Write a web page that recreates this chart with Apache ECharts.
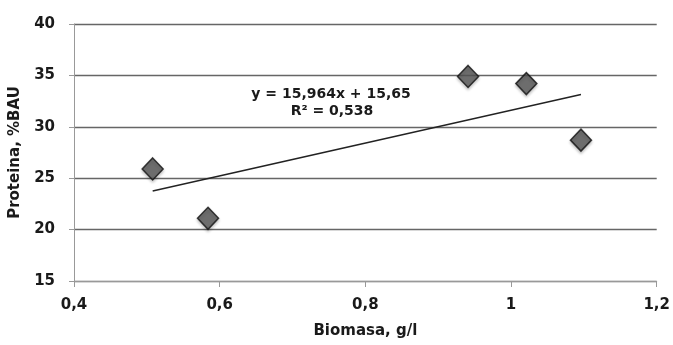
<!DOCTYPE html>
<html>
<head>
<meta charset="utf-8">
<script src="https://cdn.jsdelivr.net/npm/echarts@6/dist/echarts.min.js"></script>
<style>
  html, body { margin: 0; padding: 0; background: #fff; }
  #chart { width: 673px; height: 345px; }
</style>
</head>
<body>
<div id="chart"></div>
<script>
// data
const biomasa = [0.508, 0.584, 0.941, 1.021, 1.096];
const proteina = [25.9, 21.1, 34.9, 34.2, 28.7];
const slope = 15.964;
const intercept = 15.65;
const r2 = '0,538';

const fmt = v => String(v).replace('.', ',');

const points = biomasa.map((x, i) => [x, proteina[i]]);
const xMin = Math.min(...biomasa), xMax = Math.max(...biomasa);
const trend = [[xMin, slope * xMin + intercept], [xMax, slope * xMax + intercept]];

const font = '"DejaVu Sans", sans-serif';
const txt = { fontFamily: font, fontWeight: 'bold', fontSize: 15, color: '#1a1a1a' };
const chart = echarts.init(document.getElementById('chart'), null, { renderer: 'canvas' });

chart.setOption({
  animation: false,
  backgroundColor: '#fff',
  grid: { left: 72, right: 15, top: 24, bottom: 64 },
  xAxis: {
    type: 'value', min: 0.4, max: 1.2, interval: 0.2,
    name: 'Biomasa, g/l', nameLocation: 'middle', nameGap: 43,
    nameTextStyle: txt,
    axisLine: { lineStyle: { color: '#999', width: 1 } },
    axisTick: { show: true, length: 6, lineStyle: { color: '#999' } },
    axisLabel: Object.assign({ margin: 17, formatter: v => fmt(Math.round(v * 10) / 10) }, txt),
    splitLine: { show: false }
  },
  yAxis: {
    type: 'value', min: 15, max: 40, interval: 5,
    name: 'Proteina, %BAU', nameLocation: 'middle', nameGap: 51, nameRotate: 90,
    nameTextStyle: txt,
    axisLine: { show: true, lineStyle: { color: '#999', width: 1 } },
    axisTick: { show: true, length: 5, lineStyle: { color: '#999' } },
    axisLabel: Object.assign({ margin: 19 }, txt),
    splitLine: { show: true, lineStyle: { color: '#666', width: 1.3 } }
  },
  series: [
    {
      type: 'line',
      data: trend,
      showSymbol: false,
      lineStyle: { color: '#222', width: 1.4 },
      z: 2
    },
    {
      type: 'scatter',
      data: points,
      symbol: 'diamond',
      symbolSize: [21, 22],
      itemStyle: {
        color: '#555', borderColor: '#111', borderWidth: 1.5,
        shadowColor: 'rgba(0,0,0,0.25)', shadowBlur: 3, shadowOffsetY: 2
      },
      z: 3
    }
  ],
  graphic: [
    {
      type: 'text', x: 331, y: 94,
      style: {
        text: 'y = ' + fmt(slope) + 'x + ' + fmt(intercept),
        align: 'center', verticalAlign: 'middle',
        fontFamily: font, fontWeight: 'bold', fontSize: 14, fill: '#1a1a1a'
      }
    },
    {
      type: 'text', x: 332, y: 111,
      style: {
        text: 'R² = ' + r2,
        align: 'center', verticalAlign: 'middle',
        fontFamily: font, fontWeight: 'bold', fontSize: 14, fill: '#1a1a1a'
      }
    }
  ]
});
</script>
</body>
</html>
